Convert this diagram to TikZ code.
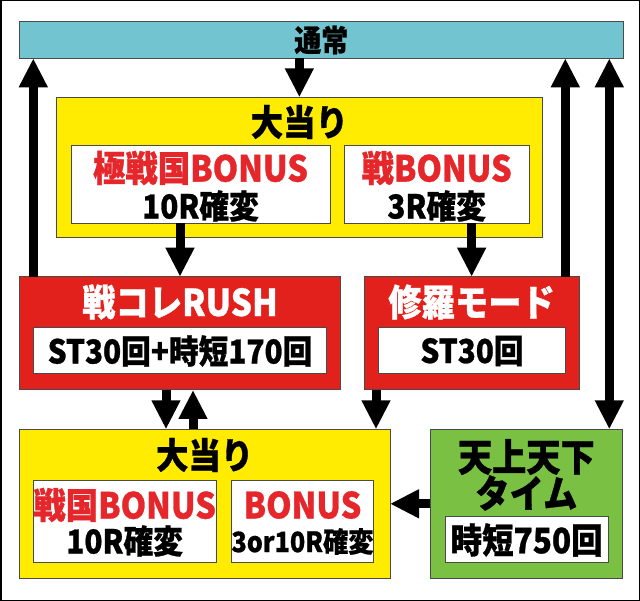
\documentclass[tikz,border=0pt]{standalone}
\usepackage{fontspec}
\setmainfont{Noto Sans CJK JP}[BoldFeatures={FakeStretch=0.9,FakeBold=0.8}]
\usetikzlibrary{arrows.meta,calc}
\definecolor{cteal}{HTML}{72C4D0}
\definecolor{cyel}{HTML}{FFEC00}
\definecolor{cred}{HTML}{E2201C}
\definecolor{cgreen}{HTML}{7AC143}
\definecolor{ctxtred}{HTML}{E5262B}
\definecolor{cedge}{HTML}{4A4A4A}
\tikzset{
  bx/.style={draw=cedge,line width=1pt,inner sep=0pt,outer sep=0pt},
  wbox/.style={bx,fill=white},
  arr/.style={line width=9pt,-{Triangle[width=27pt,length=29pt]}},
  darr/.style={line width=9pt,{Triangle[width=27pt,length=29pt]}-{Triangle[width=27pt,length=29pt]}},
  txt/.style={inner sep=0pt,font={\bfseries\fontsize{#1pt}{#1pt}\selectfont}},
}
\begin{document}
\begin{tikzpicture}[x=1pt,y=-1pt]
\useasboundingbox (0,0) rectangle (640,601);
\draw[line width=1.5pt] (0.75,0.75) rectangle (639.25,600.25);
% boxes
\node[bx,fill=cteal,minimum width=604pt,minimum height=36.6pt] (tsu) at (321.3,40) {};
\node[bx,fill=cyel,minimum width=485.3pt,minimum height=140pt] (oa1) at (299.35,167.3) {};
\node[wbox,minimum width=259pt,minimum height=77.6pt] (w1a) at (200.5,184.5) {};
\node[wbox,minimum width=185.3pt,minimum height=77.6pt] (w1b) at (436.65,184.5) {};
\node[bx,fill=cred,minimum width=321.4pt,minimum height=113.3pt] (rush) at (180,333.35) {};
\node[wbox,minimum width=293.4pt,minimum height=46.3pt] (rushw) at (180,350.85) {};
\node[bx,fill=cred,minimum width=215.3pt,minimum height=113.3pt] (shura) at (471.65,333.35) {};
\node[wbox,minimum width=187.4pt,minimum height=46.3pt] (shuraw) at (472,350.85) {};
\node[bx,fill=cyel,minimum width=370.7pt,minimum height=149pt] (oa2) at (204.65,503.8) {};
\node[wbox,minimum width=182.7pt,minimum height=82.5pt] (w2a) at (124.65,521.25) {};
\node[wbox,minimum width=141.6pt,minimum height=82.5pt] (w2b) at (302.5,521.25) {};
\node[bx,fill=cgreen,minimum width=192.7pt,minimum height=149pt] (ten) at (526.35,503.8) {};
\node[wbox,minimum width=163.3pt,minimum height=46.7pt] (tenw) at (526.65,539.35) {};
% texts
\node[txt=30] (tTsu) at (321.3,40) {通常};
\node[txt=36] (tOa1) at (299.35,122) {大当り};
\node[txt=36,text=ctxtred] (tGoku) at (200.5,168) {極戦国BONUS};
\node[txt=33] (t10a) at (200.5,206) {10R確変};
\node[txt=36,text=ctxtred] (tSen) at (436.65,168) {戦BONUS};
\node[txt=33] (t3R) at (436.65,206) {3R確変};
\node[txt=37,text=white] (tRush) at (180,302) {戦コレRUSH};
\node[txt=33] (tRushw) at (180,351) {ST30回+時短170回};
\node[txt=37,text=white] (tShura) at (471.65,302) {修羅モード};
\node[txt=33] (tShuraw) at (472,351) {ST30回};
\node[txt=36] (tOa2) at (204.65,455) {大当り};
\node[txt=36,text=ctxtred] (tSengoku) at (124.65,505) {戦国BONUS};
\node[txt=33] (t10b) at (124.65,541) {10R確変};
\node[txt=36,text=ctxtred] (tBonus) at (302.5,505) {BONUS};
\node[txt=28] (t3or) at (302.5,541.5) {3or10R確変};
\node[txt=38] (tTen) at (526.35,457) {天上天下};
\node[txt=38] (tTime) at (526.35,493) {タイム};
\node[txt=35] (tJitan) at (526.65,540) {時短750回};
% connectors
\coordinate (lA) at ($(rush.north west)+(14,0)$);
\coordinate (rA) at ($(shura.north east)+(-14,0)$);
\coordinate (dA) at ($(ten.north east)+(-13.4,0)$);
\coordinate (r1) at ($(rush.south west)+(146.7,0)$);
\coordinate (r2) at ($(rush.south west)+(173.7,0)$);
\coordinate (s1) at ($(shura.south west)+(12,0)$);
\draw[arr] (tsu.south -| oa1.north) -- (oa1.north);
\draw[arr] (lA) -- (lA |- tsu.south);
\draw[arr] (rA) -- (rA |- tsu.south);
\draw[darr] (dA |- tsu.south) -- (dA);
\draw[arr] (w1a.south -| rush.north) -- (rush.north);
\draw[arr] (w1b.south -| shura.north) -- (shura.north);
\draw[arr] (r1) -- (r1 |- oa2.north);
\draw[arr] (r2 |- oa2.north) -- (r2);
\draw[arr] (s1) -- (s1 |- oa2.north);
\draw[arr] (ten.west) -- (oa2.east);
\end{tikzpicture}
\end{document}
